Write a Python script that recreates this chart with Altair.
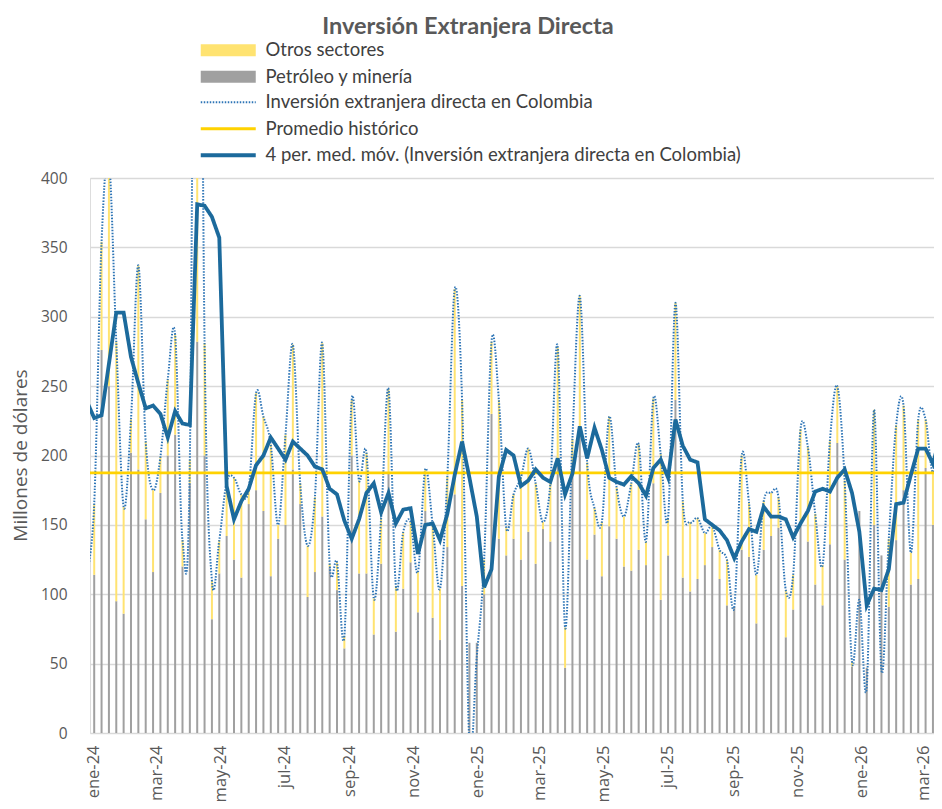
import altair as alt
import pandas as pd

TITULO = "Inversión Extranjera Directa"
S_OTROS = "Otros sectores"
S_PETRO = "Petróleo y minería"
S_IED = "Inversión extranjera directa en Colombia"
S_PROM = "Promedio histórico"
S_MM = "4 per. med. móv. (Inversión extranjera directa en Colombia)"

series_barras = [S_OTROS, S_PETRO]
colores_barras = ["#FFE371", "#A0A0A0"]
series_lineas = [S_IED, S_PROM, S_MM]
colores_lineas = ["#2E75B6", "#FFD200", "#1C6A9C"]
guiones_lineas = [[1.5, 1.5], [1, 0], [1, 0]]
grosores_lineas = [2, 3.8, 3.5]

# semanas (viernes) desde 2023-12-29 hasta 2026-03-20
primera_semana = "2023-12-29"

total = [
    115,
    165, 354, 413, 282, 163, 226, 337, 210, 175, 199,
    255, 287, 139, 197, 900, 281, 110, 139, 181, 184,
    172, 176, 245, 228, 208, 150, 215, 280, 180, 135,
    170, 281, 122, 123, 70, 240, 182, 202, 97, 155,
    248, 106, 145, 152, 116, 190, 150, 104, 185, 320,
    240, -8, 55, 125, 282, 240, 148, 172, 184, 205,
    180, 152, 180, 278, 76, 212, 315, 195, 162, 152,
    228, 177, 156, 180, 208, 138, 241, 201, 155, 310,
    167, 152, 155, 144, 149, 132, 125, 91, 200, 166,
    114, 167, 173, 170, 103, 114, 219, 206, 158, 121,
    211, 250, 182, 51, 96, 33, 233, 45, 140, 222,
    236, 130, 226, 226, 188,
    235,
]

petroleo = [
    85,
    114, 276, 250, 95, 86, 202, 190, 154, 116, 173,
    200, 215, 120, 180, 282, 200, 82, 115, 142, 125,
    112, 165, 175, 160, 113, 140, 150, 190, 165, 98,
    116, 156, 119, 103, 61, 200, 115, 115, 71, 122,
    188, 73, 104, 123, 87, 160, 83, 67, 134, 172,
    106, 65, 65, 100, 230, 140, 128, 140, 125, 145,
    122, 147, 138, 198, 47, 195, 215, 125, 143, 113,
    149, 140, 120, 117, 132, 121, 180, 96, 128, 240,
    112, 102, 111, 121, 134, 111, 92, 91, 132, 127,
    79, 132, 142, 148, 69, 89, 151, 138, 107, 92,
    136, 209, 125, 48, 160, 47, 150, 128, 91, 139,
    175, 107, 111, 191, 150,
    150,
]

media_movil = [
    239,
    227, 229, 266, 303, 303, 271, 252, 234, 236, 230,
    213, 232, 223, 222, 381, 380, 372, 357, 178, 154,
    167, 176, 193, 200, 213, 205, 197, 210, 205, 200,
    192, 190, 176, 172, 153, 140, 154, 173, 180, 159,
    173, 151, 161, 162, 129, 150, 151, 139, 158, 186,
    210, 184, 156, 105, 118, 185, 204, 200, 178, 182,
    190, 184, 181, 198, 172, 187, 221, 198, 220, 204,
    184, 181, 179, 185, 180, 171, 191, 197, 184, 226,
    207, 197, 195, 154, 150, 146, 139, 126, 138, 147,
    145, 163, 156, 156, 154, 141, 151, 160, 174, 176,
    174, 184, 190, 173, 145, 92, 104, 103, 118, 165,
    166, 186, 205, 205, 194,
    214,
]

promedio_historico = 187.5

ticks_y = [0, 50, 100, 150, 200, 250, 300, 350, 400]
ticks_x = [
    "2024-01-01", "2024-03-01", "2024-05-01", "2024-07-01", "2024-09-01",
    "2024-11-01", "2025-01-01", "2025-03-01", "2025-05-01", "2025-07-01",
    "2025-09-01", "2025-11-01", "2026-01-01", "2026-03-01",
]
meses = ["ene", "feb", "mar", "abr", "may", "jun", "jul", "ago", "sep", "oct", "nov", "dic"]
dominio_x = ["2024-01-01", "2026-03-14"]

n = len(total)
fechas = pd.date_range(primera_semana, periods=n, freq="7D").strftime("%Y-%m-%d").tolist()


def ms(d):
    return int(pd.Timestamp(d, tz="UTC").timestamp() * 1000)


barras_df = pd.DataFrame({
    "fecha": fechas + fechas,
    "serie": [S_PETRO] * n + [S_OTROS] * n,
    "valor": petroleo + [t - p for t, p in zip(total, petroleo)],
    "orden": [0] * n + [1] * n,
})
ied_df = pd.DataFrame({"fecha": fechas, "valor": total, "serie": S_IED})
mm_df = pd.DataFrame({"fecha": fechas, "valor": media_movil, "serie": S_MM})
prom_df = pd.DataFrame({"valor": [promedio_historico], "serie": [S_PROM]})

meses_js = "[" + ",".join("'%s'" % m for m in meses) + "]"
label_expr = meses_js + "[utcmonth(datum.value)] + '-' + utcFormat(datum.value, '%y')"

x_enc = alt.X(
    "fecha:T",
    title=None,
    scale=alt.Scale(type="utc", domain=[ms(d) for d in dominio_x], padding=0),
    axis=alt.Axis(
        values=[ms(d) for d in ticks_x],
        labelExpr=label_expr,
        labelAngle=270,
        labelFont="Open Sans",
        labelFontSize=16.5,
        labelColor="#595959",
        labelPadding=12,
        labelOffset=3,
        labelOverlap=False,
        labelFlush=False,
        ticks=False,
        domain=False,
        grid=False,
    ),
)

y_scale = alt.Scale(domain=[0, 400], nice=False)
y_axis = alt.Axis(
    values=ticks_y,
    title="Millones de dólares",
    titleFont="Open Sans",
    titleFontSize=19,
    titleFontWeight="normal",
    titleColor="#595959",
    titleX=-60,
    titleY=277,
    labelFont="Open Sans",
    labelFontSize=15.5,
    labelColor="#595959",
    labelPadding=23,
    ticks=False,
    domain=False,
    grid=True,
    gridColor="#D9D9D9",
    gridWidth=1.5,
)

comun_leyenda = dict(
    title=None,
    orient="none",
    direction="vertical",
    symbolSize=121,
    labelOffset=28,
    labelFont="Lato",
    labelFontSize=18.5,
    labelColor="#404040",
    labelLimit=0,
    rowPadding=7.5,
    padding=0,
    symbolOpacity=1,
)
leyenda_barras = alt.Legend(
    legendX=129, legendY=-137, symbolType="M-5,-1.1H5V1.1H-5Z", **comun_leyenda
)
leyenda_lineas = alt.Legend(
    legendX=129, legendY=-85, symbolType="M-5,0H5", **comun_leyenda
)

fill_enc = alt.Fill(
    "serie:N",
    scale=alt.Scale(domain=series_barras, range=colores_barras),
    legend=leyenda_barras,
)
stroke_enc = alt.Stroke(
    "serie:N",
    scale=alt.Scale(domain=series_lineas, range=colores_lineas),
    legend=leyenda_lineas,
)
dash_enc = alt.StrokeDash(
    "serie:N",
    scale=alt.Scale(domain=series_lineas, range=guiones_lineas),
    legend=leyenda_lineas,
)
width_enc = alt.StrokeWidth(
    "serie:N",
    scale=alt.Scale(domain=series_lineas, range=grosores_lineas),
    legend=leyenda_lineas,
)

barras = alt.Chart(barras_df).mark_bar(size=2, clip=True).encode(
    x=x_enc,
    y=alt.Y("valor:Q", stack="zero", scale=y_scale, axis=y_axis),
    fill=fill_enc,
    order=alt.Order("orden:Q"),
)

ied = alt.Chart(ied_df).mark_line(interpolate="cardinal", clip=True).encode(
    x=x_enc,
    y=alt.Y("valor:Q", scale=y_scale, axis=y_axis),
    stroke=stroke_enc,
    strokeDash=dash_enc,
    strokeWidth=width_enc,
)

prom = alt.Chart(prom_df).mark_rule().encode(
    y=alt.Y("valor:Q", scale=y_scale, axis=y_axis),
    stroke=stroke_enc,
    strokeDash=dash_enc,
    strokeWidth=width_enc,
)

mm = alt.Chart(mm_df).mark_line(clip=True).encode(
    x=x_enc,
    y=alt.Y("valor:Q", scale=y_scale, axis=y_axis),
    stroke=stroke_enc,
    strokeDash=dash_enc,
    strokeWidth=width_enc,
)

chart = alt.layer(barras, ied, prom, mm).properties(
    width=844,
    height=555,
    padding={"left": 82, "top": 170, "right": 0, "bottom": 68},
    autosize=alt.AutoSizeParams(type="none"),
    title=alt.TitleParams(
        TITULO,
        font="Lato",
        fontSize=23.5,
        fontWeight="bold",
        color="#595959",
        anchor="middle",
        frame="group",
        offset=3,
        dx=-44,
    ),
).configure_view(stroke=None).configure(background="white")

chart.save("out.html", embed_options={"renderer": "svg", "actions": False})
